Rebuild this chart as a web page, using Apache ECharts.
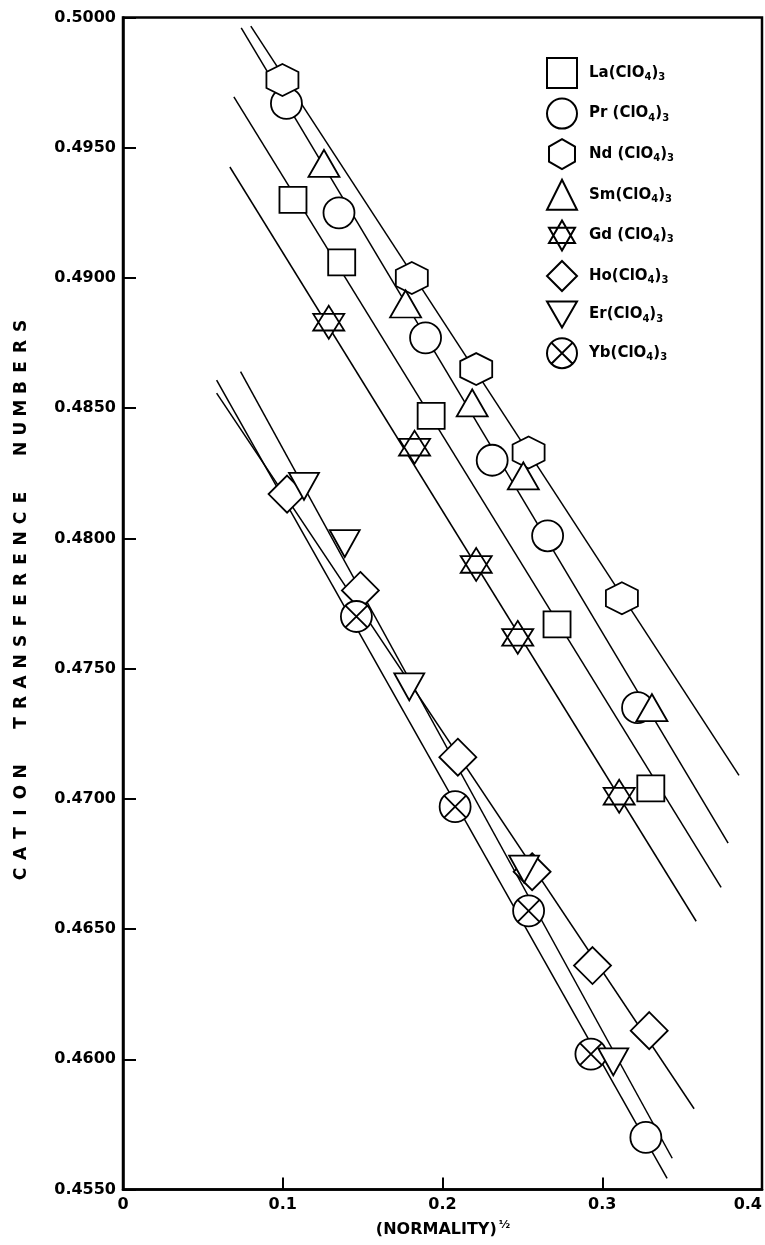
<!DOCTYPE html>
<html>
<head>
<meta charset="utf-8">
<script src="https://cdn.jsdelivr.net/npm/echarts@6/dist/echarts.min.js"></script>
<style>
  html, body { margin: 0; padding: 0; background: #fff; }
  #chart { width: 765px; height: 1245px; }
</style>
</head>
<body>
<div id="chart"></div>
<script>
// Cation transference numbers of rare-earth perchlorates against (normality)^1/2

// Axis ranges / ticks
const xTickValues = [0, 0.1, 0.2, 0.3, 0.4];
const yTickValues = [0.455, 0.46, 0.465, 0.47, 0.475, 0.48, 0.485, 0.49, 0.495, 0.5];

// Measured points [sqrt(N), t+]
const laPoints = [[0.1064, 0.4930], [0.1369, 0.4906], [0.1929, 0.4847], [0.2717, 0.4767], [0.3304, 0.4704]];
const prPoints = [[0.1023, 0.4967], [0.1352, 0.4925], [0.1894, 0.4877], [0.2311, 0.4830], [0.2658, 0.4801], [0.3221, 0.4735]];
const ndPoints = [[0.0998, 0.4976], [0.1808, 0.4900], [0.2211, 0.4865], [0.2539, 0.4833], [0.3123, 0.4777]];
const smPoints = [[0.1258, 0.4944], [0.1769, 0.4890], [0.2186, 0.4852], [0.2506, 0.4824], [0.3311, 0.4735]];
const gdPoints = [[0.1288, 0.4883], [0.1825, 0.4835], [0.2211, 0.4790], [0.2471, 0.4762], [0.3106, 0.4701]];
const hoPoints = [[0.1027, 0.4817], [0.1486, 0.4780], [0.2096, 0.4716], [0.2561, 0.4672], [0.2939, 0.4636], [0.3294, 0.4611]];
const erPoints = [[0.1133, 0.4820], [0.1388, 0.4798], [0.1792, 0.4743], [0.2511, 0.4673], [0.3069, 0.4599]];
const ybPoints = [[0.1461, 0.4770], [0.2079, 0.4697], [0.2539, 0.4657], [0.2929, 0.4602]];
const ybOpenPoints = [[0.3273, 0.4570]];   // Yb point drawn as a plain circle

// Straight fitted lines, [start, end]; Pr and Sm share one line
const ndFit = [[0.0800, 0.49967], [0.3856, 0.4709]];
const prSmFit = [[0.0740, 0.49960], [0.3788, 0.4683]];
const laFit = [[0.0694, 0.49695], [0.3744, 0.4666]];
const gdFit = [[0.0669, 0.49426], [0.3588, 0.4653]];
const hoFit = [[0.0586, 0.48558], [0.3575, 0.4581]];
const erFit = [[0.0736, 0.4864], [0.3438, 0.4562]];
const ybFit = [[0.0586, 0.48608], [0.3406, 0.45543]];

const seriesNames = ['La(ClO4)3', 'Pr (ClO4)3', 'Nd (ClO4)3', 'Sm(ClO4)3', 'Gd (ClO4)3', 'Ho(ClO4)3', 'Er(ClO4)3', 'Yb(ClO4)3'];
const yTitle = 'CATION TRANSFERENCE NUMBERS';
const xTitle = '(NORMALITY)';

// Marker shapes
const SYM = {
  hexagon: 'path://M15,0 L30,8.66 L30,25.98 L15,34.64 L0,25.98 L0,8.66 Z',
  star: 'path://M15,0 L30,26 L0,26 Z M15,34.6 L0,8.6 L30,8.6 Z',
  downTri: 'path://M0,0 L30,0 L15,26 Z',
  circleX: 'path://M30,15 A15,15 0 1 1 0,15 A15,15 0 1 1 30,15 Z M4.4,4.4 L25.6,25.6 M25.6,4.4 L4.4,25.6'
};

const FONT = 'DejaVu Sans';
const markerStyle = { color: '#fff', borderColor: '#000', borderWidth: 1.8, opacity: 1 };

function fitLine(name, pts) {
  return {
    name: name, type: 'line', data: pts, symbol: 'none', silent: true,
    lineStyle: { color: '#000', width: 1.5 }, animation: false, z: 1
  };
}
function markers(name, pts, symbol, size) {
  return {
    name: name, type: 'scatter', data: pts, symbol: symbol, symbolSize: size,
    itemStyle: markerStyle, animation: false, z: 3
  };
}

const ybSeriesData = ybPoints.map(p => p).concat(ybOpenPoints.map(p => ({ value: p, symbol: 'circle', symbolSize: 31 })));

// the rotated axis title is spread letter by letter in fixed-width rich-text cells
const letterTitle = yTitle.split('').map(c => c === ' ' ? '{g| }' : '{l|' + c + '}').join('');

const chart = echarts.init(document.getElementById('chart'), null, { renderer: 'canvas' });
chart.setOption({
  backgroundColor: '#fff',
  animation: false,
  grid: {
    left: 123, right: 2, top: 17.5, bottom: 55.5,
    show: true, borderColor: '#000', borderWidth: 2.5, backgroundColor: 'transparent'
  },
  xAxis: {
    type: 'value', min: xTickValues[0], max: xTickValues[xTickValues.length - 1], interval: 0.1,
    axisLine: { show: true, lineStyle: { color: '#000', width: 2.5 } },
    axisTick: { show: true, inside: true, length: 12, lineStyle: { color: '#000', width: 2 } },
    splitLine: { show: false },
    axisLabel: {
      color: '#000', fontFamily: FONT, fontWeight: 'bold', fontSize: 16, margin: 7,
      alignMaxLabel: 'right',
      formatter: v => (v === 0 ? '0' : v.toFixed(1))
    }
  },
  yAxis: {
    type: 'value', min: yTickValues[0], max: yTickValues[yTickValues.length - 1], interval: 0.005,
    axisLine: { show: true, lineStyle: { color: '#000', width: 2.5 } },
    axisTick: { show: true, inside: true, length: 13, lineStyle: { color: '#000', width: 2 } },
    splitLine: { show: false },
    axisLabel: {
      color: '#000', fontFamily: FONT, fontWeight: 'bold', fontSize: 16, margin: 7,
      formatter: v => v.toFixed(4)
    }
  },
  legend: {
    orient: 'vertical', left: 541, top: 52, itemWidth: 30, itemHeight: 30, itemGap: 8.6,
    data: seriesNames,
    selectedMode: false,
    formatter: name => name.replace(/(\d)/g, '{s|$1}'),
    textStyle: {
      color: '#000', fontFamily: FONT, fontWeight: 'bold', fontSize: 15, padding: [0, 0, 0, 7],
      rich: { s: { color: '#000', fontFamily: FONT, fontWeight: 'bold', fontSize: 10, padding: [9, 0, 0, 0] } }
    }
  },
  graphic: [
    {
      type: 'text', x: 22, y: 600, rotation: Math.PI / 2,
      style: {
        text: letterTitle, fill: '#000', align: 'center', verticalAlign: 'middle',
        textAlign: 'center', textVerticalAlign: 'middle',
        rich: {
          l: { width: 20.5, align: 'center', fontFamily: FONT, fontWeight: 'bold', fontSize: 17, fill: '#000', color: '#000' },
          g: { width: 28, fontFamily: FONT, fontSize: 17 }
        }
      }
    },
    {
      type: 'text', x: 443, y: 1230,
      style: {
        text: xTitle + '{h|½}', fill: '#000', align: 'center', verticalAlign: 'middle',
        textAlign: 'center', textVerticalAlign: 'middle',
        fontFamily: FONT, fontWeight: 'bold', fontSize: 16,
        rich: { h: { fontFamily: FONT, fontWeight: 'bold', fontSize: 11, padding: [0, 0, 10, 2], fill: '#000', color: '#000' } }
      }
    }
  ],
  series: [
    fitLine('fit Nd', ndFit),
    fitLine('fit Pr Sm', prSmFit),
    fitLine('fit La', laFit),
    fitLine('fit Gd', gdFit),
    fitLine('fit Ho', hoFit),
    fitLine('fit Er', erFit),
    fitLine('fit Yb', ybFit),
    markers(seriesNames[0], laPoints, 'rect', [27, 26]),
    markers(seriesNames[1], prPoints, 'circle', 31),
    markers(seriesNames[2], ndPoints, SYM.hexagon, [32, 32]),
    markers(seriesNames[3], smPoints, 'triangle', [31, 27]),
    markers(seriesNames[4], gdPoints, SYM.star, [31, 33]),
    markers(seriesNames[5], hoPoints, 'diamond', [37, 37]),
    markers(seriesNames[7], ybSeriesData, SYM.circleX, 31),
    markers(seriesNames[6], erPoints, SYM.downTri, [30, 27])
  ]
});
</script>
</body>
</html>
